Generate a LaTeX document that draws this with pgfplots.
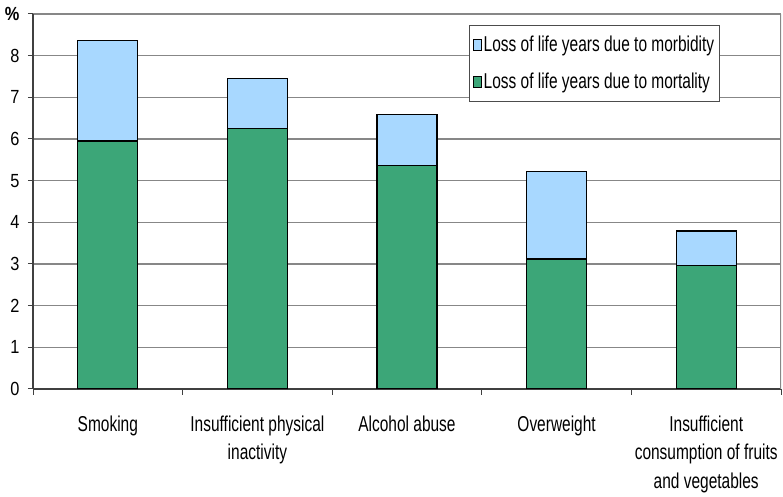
\documentclass[border=0pt]{standalone}
\usepackage{fontspec}
\setmainfont{Liberation Sans}[FakeStretch=0.86]
\newfontfamily\narrowfont{Liberation Sans}[FakeStretch=0.72]
\usepackage{pgfplots}
\pgfplotsset{compat=1.18}
\definecolor{mortgreen}{RGB}{60,166,120}
\definecolor{morbblue}{RGB}{168,216,255}
\definecolor{gridgray}{RGB}{135,135,135}
\newcommand{\tickfont}{\fontsize{19}{23}\selectfont}
\newcommand{\labelfont}{\narrowfont\fontsize{21.5}{28.6}\selectfont}

\begin{document}
\begin{tikzpicture}
\begin{axis}[
  name=ax,
  scale only axis, width=748pt, height=375pt,
  xmin=0, xmax=5, ymin=0, ymax=9,
  ybar stacked, bar width=60pt,
  axis lines=left, axis line style={-, black!75, line width=1.1pt},
  ytick={0,...,9}, yticklabels={0,1,2,3,4,5,6,7,8,\textbf{\%}},
  xtick={0.5,1.5,2.5,3.5,4.5},
  xticklabels={Smoking, Insufficient physical\\inactivity, Alcohol abuse, Overweight,
    Insufficient\\consumption of fruits\\and vegetables},
  minor xtick={0,1,2,3,4,5},
  major x tick style={draw=none},
  minor x tick style={black!75, line width=0.8pt},
  minor tick length=6pt,
  y tick style={black!75, line width=1pt},
  major tick length=5pt,
  tick align=outside,
  ymajorgrids, grid style={gridgray, line width=1.2pt},
  /pgf/number format/assume math mode=true,
  yticklabel style={font=\tickfont, xshift=-5pt},
  xticklabel style={font=\labelfont, align=center, yshift=-18pt},
  legend style={at={(rel axis cs:0.918,0.971)}, anchor=north east,
    draw=black!70, line width=0.8pt, font=\labelfont,
    inner xsep=3pt, inner ysep=9pt, row sep=16pt},
  legend cell align=left,
  reverse legend,
  legend image code/.code={\draw[#1, draw=black, line width=0.8pt] (0pt,-6pt) rectangle (8pt,5pt);},
]
\addplot[fill=mortgreen, draw=black, line width=1.2pt]
  coordinates {(0.5,5.95) (1.5,6.26) (2.5,5.37) (3.5,3.12) (4.5,2.97)};
\addplot[fill=morbblue, draw=black, line width=1.2pt]
  coordinates {(0.5,2.42) (1.5,1.19) (2.5,1.22) (3.5,2.10) (4.5,0.82)};
\legend{Loss of life years due to mortality, Loss of life years due to morbidity}
\draw[gridgray, line width=1.2pt] (rel axis cs:1,0) -- (rel axis cs:1,1);
\end{axis}
\path (ax.south west) ++(-33pt,-108pt) coordinate (bl);
\path (ax.north east) ++(2pt,14pt) coordinate (tr);
\pgfresetboundingbox
\path[use as bounding box] (bl) rectangle (tr);
\end{tikzpicture}
\end{document}
